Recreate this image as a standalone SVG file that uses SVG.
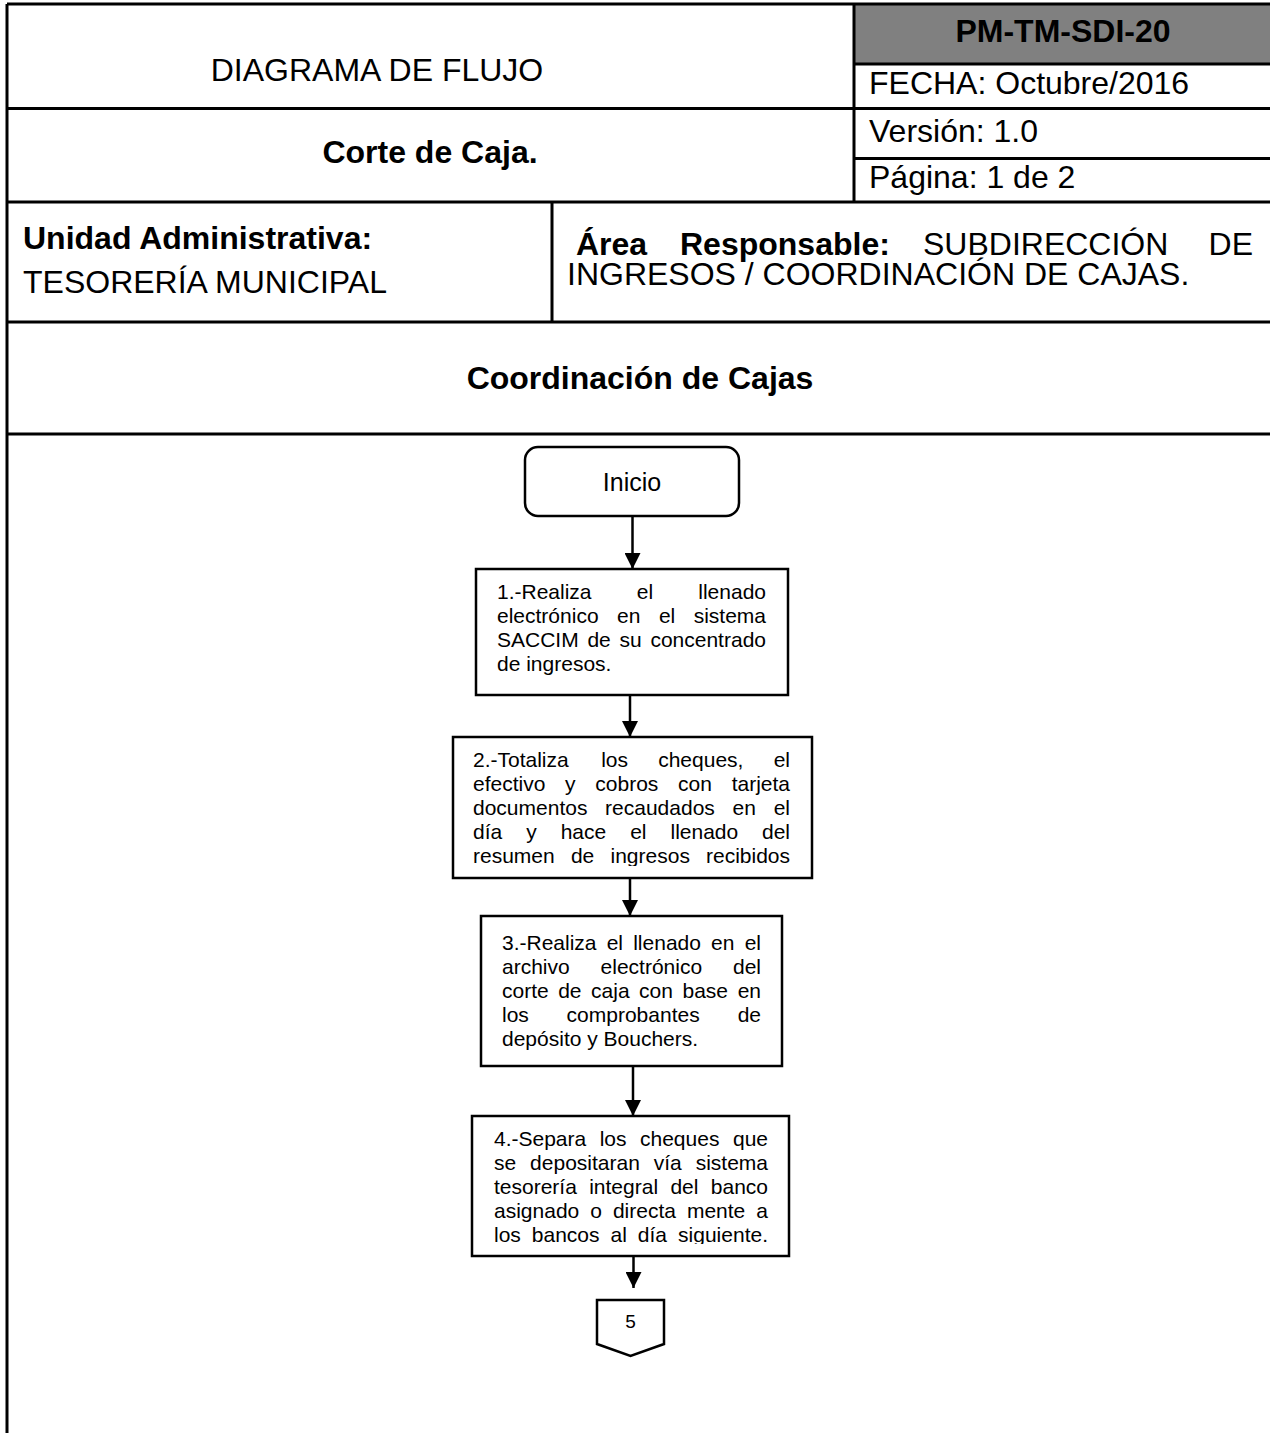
<svg xmlns="http://www.w3.org/2000/svg" width="1270" height="1433" viewBox="0 0 1270 1433">
<style>
text{font-family:"Liberation Sans",Arial,sans-serif;fill:#000}
.h{font-size:32px}
.b{font-weight:bold}
.t{font-size:21px}
.grid{stroke:#000;stroke-width:3;fill:none}
.box{stroke:#000;stroke-width:2.5;fill:#fff}
.conn{stroke:#000;stroke-width:2.5;fill:none}
</style>
<defs>
<marker id="arr" markerUnits="userSpaceOnUse" markerWidth="18" markerHeight="16" refX="16" refY="8" orient="auto">
<path d="M0,0 L16,8 L0,16 Z" fill="#000"/>
</marker>
<clipPath id="c2"><rect x="455" y="740" width="355" height="126"/></clipPath>
<clipPath id="c4"><rect x="474" y="1118" width="313" height="126"/></clipPath>
</defs>
<rect x="0" y="0" width="1270" height="1433" fill="#fff"/>

<g id="header">
<rect x="854" y="4" width="420" height="60" fill="#808080"/>
<path class="grid" d="M7,4 H1272 M7,108.5 H1272 M7,202 H1272 M7,322 H1272 M7,434 H1272 M7,4 V1433 M854,4 V202 M854,64 H1272 M854,158.5 H1272 M552,202 V322"/>
<text class="h" x="377" y="81" text-anchor="middle">DIAGRAMA DE FLUJO</text>
<text class="h b" x="1063" y="42" text-anchor="middle">PM-TM-SDI-20</text>
<text class="h" x="869" y="94">FECHA: Octubre/2016</text>
<text class="h b" x="430" y="163" text-anchor="middle">Corte de Caja.</text>
<text class="h" x="869" y="142">Versión: 1.0</text>
<text class="h" x="869" y="188">Página: 1 de 2</text>
<text class="h b" x="23" y="249">Unidad Administrativa:</text>
<text class="h" x="23" y="293">TESORERÍA MUNICIPAL</text>
<text class="h b" x="576" y="255">Área</text>
<text class="h b" x="680" y="255">Responsable:</text>
<text class="h" x="923" y="255">SUBDIRECCIÓN</text>
<text class="h" x="1253" y="255" text-anchor="end">DE</text>
<text class="h" x="567" y="285">INGRESOS / COORDINACIÓN DE CAJAS.</text>
<text class="h b" x="640" y="389" text-anchor="middle">Coordinación de Cajas</text>
</g>

<g id="connectors">
<line class="conn" x1="632.5" y1="517" x2="632.5" y2="569" marker-end="url(#arr)"/>
<line class="conn" x1="630" y1="695" x2="630" y2="737" marker-end="url(#arr)"/>
<line class="conn" x1="630" y1="878" x2="630" y2="916" marker-end="url(#arr)"/>
<line class="conn" x1="633" y1="1066" x2="633" y2="1116" marker-end="url(#arr)"/>
<line class="conn" x1="633.5" y1="1256" x2="633.5" y2="1288" marker-end="url(#arr)"/>
</g>

<g id="inicio">
<rect class="box" x="525" y="447" width="214" height="69" rx="13" ry="13"/>
<text x="632" y="491" font-size="25" text-anchor="middle">Inicio</text>
</g>

<g id="paso1">
<rect class="box" x="476" y="569" width="312" height="126"/>
<text class="t" x="497" y="598.5">1.-Realiza</text>
<text class="t" x="636.8" y="598.5">el</text>
<text class="t" x="766" y="598.5" text-anchor="end">llenado</text>
<text class="t" x="497" y="622.5">electrónico</text>
<text class="t" x="617" y="622.5">en</text>
<text class="t" x="658.9" y="622.5">el</text>
<text class="t" x="766" y="622.5" text-anchor="end">sistema</text>
<text class="t" x="497" y="646.5">SACCIM</text>
<text class="t" x="587.4" y="646.5">de</text>
<text class="t" x="619.5" y="646.5">su</text>
<text class="t" x="766" y="646.5" text-anchor="end">concentrado</text>
<text class="t" x="497" y="670.5">de ingresos.</text>
</g>

<g id="paso2">
<rect class="box" x="453" y="737" width="359" height="141"/>
<g clip-path="url(#c2)">
<text class="t" x="473" y="767">2.-Totaliza</text>
<text class="t" x="601.2" y="767">los</text>
<text class="t" x="658.2" y="767">cheques,</text>
<text class="t" x="790" y="767" text-anchor="end">el</text>
<text class="t" x="473" y="791">efectivo</text>
<text class="t" x="565.1" y="791">y</text>
<text class="t" x="595.3" y="791">cobros</text>
<text class="t" x="678" y="791">con</text>
<text class="t" x="790" y="791" text-anchor="end">tarjeta</text>
<text class="t" x="473" y="815">documentos</text>
<text class="t" x="605.1" y="815">recaudados</text>
<text class="t" x="732.5" y="815">en</text>
<text class="t" x="790" y="815" text-anchor="end">el</text>
<text class="t" x="473" y="839">día</text>
<text class="t" x="526.2" y="839">y</text>
<text class="t" x="560.7" y="839">hace</text>
<text class="t" x="630.2" y="839">el</text>
<text class="t" x="670.5" y="839">llenado</text>
<text class="t" x="790" y="839" text-anchor="end">del</text>
<text class="t" x="473" y="863">resumen</text>
<text class="t" x="570.9" y="863">de</text>
<text class="t" x="610.5" y="863">ingresos</text>
<text class="t" x="790" y="863" text-anchor="end">recibidos</text>
</g>
</g>

<g id="paso3">
<rect class="box" x="481" y="916" width="301" height="150"/>
<text class="t" x="502" y="950">3.-Realiza</text>
<text class="t" x="606.7" y="950">el</text>
<text class="t" x="633.2" y="950">llenado</text>
<text class="t" x="711.1" y="950">en</text>
<text class="t" x="761" y="950" text-anchor="end">el</text>
<text class="t" x="502" y="974">archivo</text>
<text class="t" x="600.6" y="974">electrónico</text>
<text class="t" x="761" y="974" text-anchor="end">del</text>
<text class="t" x="502" y="998">corte</text>
<text class="t" x="558.2" y="998">de</text>
<text class="t" x="591.1" y="998">caja</text>
<text class="t" x="639.1" y="998">con</text>
<text class="t" x="682.5" y="998">base</text>
<text class="t" x="761" y="998" text-anchor="end">en</text>
<text class="t" x="502" y="1022">los</text>
<text class="t" x="566.6" y="1022">comprobantes</text>
<text class="t" x="761" y="1022" text-anchor="end">de</text>
<text class="t" x="502" y="1046">depósito y Bouchers.</text>
</g>

<g id="paso4">
<rect class="box" x="472" y="1116" width="317" height="140"/>
<g clip-path="url(#c4)">
<text class="t" x="494" y="1146">4.-Separa</text>
<text class="t" x="599.7" y="1146">los</text>
<text class="t" x="640" y="1146">cheques</text>
<text class="t" x="768" y="1146" text-anchor="end">que</text>
<text class="t" x="494" y="1170">se</text>
<text class="t" x="530.1" y="1170">depositaran</text>
<text class="t" x="653.7" y="1170">vía</text>
<text class="t" x="768" y="1170" text-anchor="end">sistema</text>
<text class="t" x="494" y="1194">tesorería</text>
<text class="t" x="589.2" y="1194">integral</text>
<text class="t" x="670.4" y="1194">del</text>
<text class="t" x="768" y="1194" text-anchor="end">banco</text>
<text class="t" x="494" y="1218">asignado</text>
<text class="t" x="590.2" y="1218">o</text>
<text class="t" x="612.9" y="1218">directa</text>
<text class="t" x="686.9" y="1218">mente</text>
<text class="t" x="768" y="1218" text-anchor="end">a</text>
<text class="t" x="494" y="1242">los</text>
<text class="t" x="531.8" y="1242">bancos</text>
<text class="t" x="610.5" y="1242">al</text>
<text class="t" x="637.8" y="1242">día</text>
<text class="t" x="768" y="1242" text-anchor="end">siguiente.</text>
</g>
</g>

<g id="conector5">
<polygon class="box" points="597,1300 664,1300 664,1344 630.5,1356 597,1344"/>
<text x="630.5" y="1328" font-size="19" text-anchor="middle">5</text>
</g>
</svg>
